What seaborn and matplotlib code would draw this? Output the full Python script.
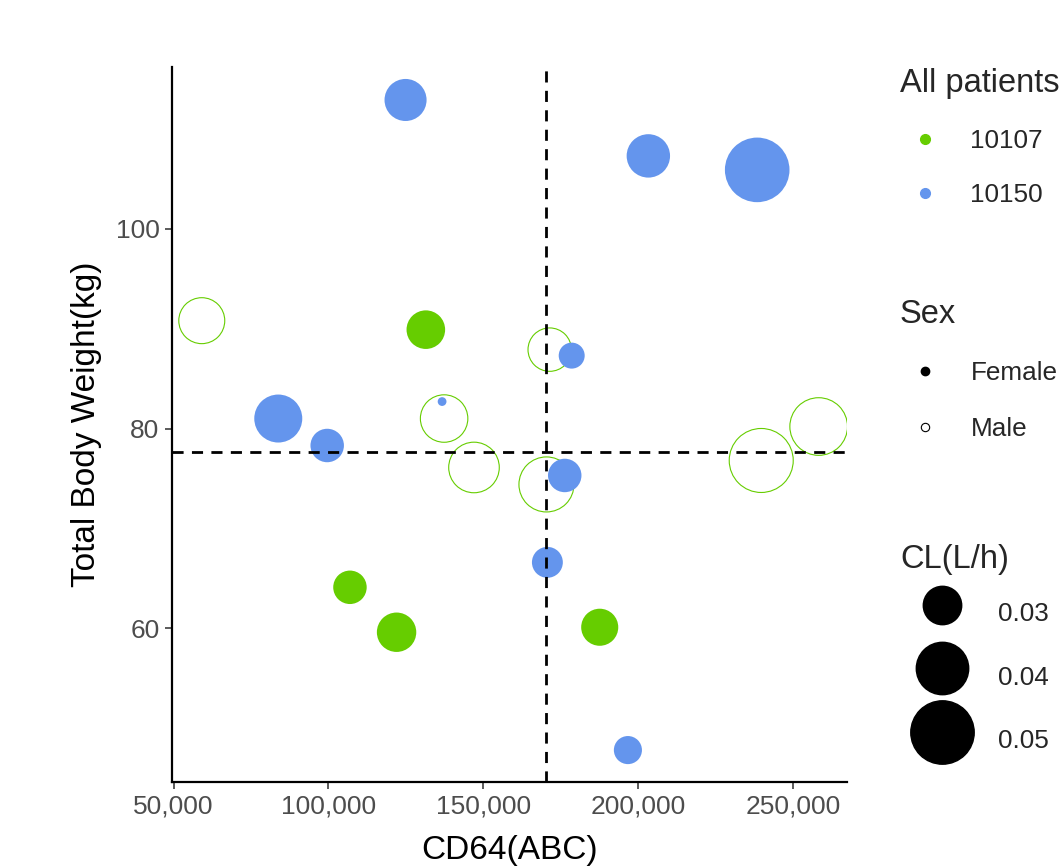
import matplotlib
matplotlib.use("Agg")
import matplotlib.pyplot as plt
from matplotlib.lines import Line2D
from matplotlib.ticker import FuncFormatter
import pandas as pd
import seaborn as sns

# data
patient = ["10150", "10150", "10150", "10107", "10107", "10107", "10150",
           "10150", "10150", "10107", "10150", "10107", "10107", "10150",
           "10107", "10107", "10150", "10107", "10107", "10107", "10150"]
sex = ["Female", "Female", "Female", "Male", "Female", "Male", "Female",
       "Female", "Female", "Male", "Female", "Male", "Male", "Female",
       "Male", "Male", "Female", "Female", "Female", "Female", "Female"]
cd64 = [124900, 203300, 238450, 59100, 131450, 171450, 178550,
        83800, 136700, 137350, 99600, 147000, 170400, 176300,
        239750, 258300, 170700, 106950, 122000, 187600, 196700]
weight = [112.9, 107.3, 105.9, 90.8, 89.9, 87.9, 87.3,
          81.0, 82.7, 81.0, 78.3, 76.1, 74.4, 75.3,
          76.8, 80.2, 66.6, 64.1, 59.6, 60.1, 47.8]
cl = [0.0323, 0.0332, 0.0512, 0.0350, 0.0301, 0.0332, 0.0237,
      0.0365, 0.0190, 0.0361, 0.0272, 0.0385, 0.0422, 0.0272,
      0.0506, 0.0445, 0.0259, 0.0272, 0.0306, 0.0292, 0.0246]

cd64_cut = 170200
weight_cut = 77.6

patient_levels = ["10107", "10150"]
cl_levels = [0.03, 0.04, 0.05]
x_ticks = [50000, 100000, 150000, 200000, 250000]
y_ticks = [60, 80, 100]

GREEN = "#66CD00"
BLUE = "#6495ED"
palette = {"10107": GREEN, "10150": BLUE}


def size_for(value):
    # marker area (pt^2) grows linearly with CL
    return 65940 * value - 1213


SIZE_NORM = (min(cl), max(cl))
SIZES = (size_for(SIZE_NORM[0]), size_for(SIZE_NORM[1]))

df = pd.DataFrame({"patient": patient, "sex": sex, "cd64": cd64,
                   "weight": weight, "cl": cl})

sns.set_theme(style="white")
plt.rcParams["font.family"] = ["Liberation Sans", "DejaVu Sans"]

fig = plt.figure(figsize=(10.62, 8.67), dpi=100)
ax = fig.add_axes([0.162, 0.098, 0.636, 0.8247])

male = df[df["sex"] == "Male"]
female = df[df["sex"] == "Female"]

sns.scatterplot(data=male, x="cd64", y="weight", size="cl", sizes=SIZES,
                size_norm=SIZE_NORM, color=GREEN, facecolor="none",
                edgecolor=GREEN, linewidth=0.8, legend=False, ax=ax, zorder=2)
sns.scatterplot(data=female, x="cd64", y="weight", hue="patient",
                palette=palette, size="cl", sizes=SIZES, size_norm=SIZE_NORM,
                edgecolor="none", linewidth=0, legend=False, ax=ax, zorder=3)

ax.axvline(cd64_cut, color="black", lw=2.0, ls=(0, (4, 3)), zorder=4)
ax.axhline(weight_cut, color="black", lw=2.0, ls=(0, (4, 3)), zorder=4)

ax.set_xlim(49500, 267600)
ax.set_ylim(44.6, 116.2)
ax.set_xticks(x_ticks)
ax.set_yticks(y_ticks)
ax.xaxis.set_major_formatter(FuncFormatter(lambda v, p: f"{int(v):,}"))
ax.tick_params(axis="both", which="major", labelsize=19, colors="#4D4D4D",
               length=5, width=1.3, pad=4, bottom=True, left=True)
for side in ["top", "right"]:
    ax.spines[side].set_visible(False)
for side in ["left", "bottom"]:
    ax.spines[side].set_color("black")
    ax.spines[side].set_linewidth(1.6)
ax.set_xlabel("CD64(ABC)", fontsize=24, color="black", labelpad=12)
ax.set_ylabel("Total Body Weight(kg)", fontsize=24, color="black", labelpad=10)

# legends
fs = 18.8
leg_kw = dict(frameon=False, loc="upper left", borderaxespad=0, borderpad=0,
              fontsize=fs, title_fontsize=23.5, alignment="left")
x_leg = 900 / 1062

h1 = [Line2D([], [], ls="none", marker="o", markersize=7,
             markerfacecolor=palette[p], markeredgecolor=palette[p])
      for p in patient_levels]
leg1 = fig.legend(h1, patient_levels, title="All patients",
                  bbox_to_anchor=(x_leg, 1 - 68 / 867),
                  handlelength=1.95, handletextpad=0.75, labelspacing=1.15,
                  **leg_kw)

h2 = [Line2D([], [], ls="none", marker="o", markersize=6,
             markerfacecolor="black", markeredgecolor="black"),
      Line2D([], [], ls="none", marker="o", markersize=6,
             markerfacecolor="white", markeredgecolor="black",
             markeredgewidth=0.8)]
leg2 = fig.legend(h2, ["Female", "Male"], title="Sex",
                  bbox_to_anchor=(x_leg, 1 - 299 / 867),
                  handlelength=1.95, handletextpad=0.75, labelspacing=1.2,
                  **leg_kw)

h3 = [Line2D([], [], ls="none", marker="o", markersize=size_for(v) ** 0.5,
             markerfacecolor="black", markeredgecolor="black")
      for v in cl_levels]
leg3 = fig.legend(h3, [f"{v:.2f}" for v in cl_levels], title="CL(L/h)",
                  bbox_to_anchor=(x_leg, 1 - 544 / 867),
                  handlelength=3.2, handleheight=2.6, handletextpad=0.55,
                  labelspacing=0.5, **leg_kw)

fig.savefig("out.png", dpi=100, facecolor="white")
